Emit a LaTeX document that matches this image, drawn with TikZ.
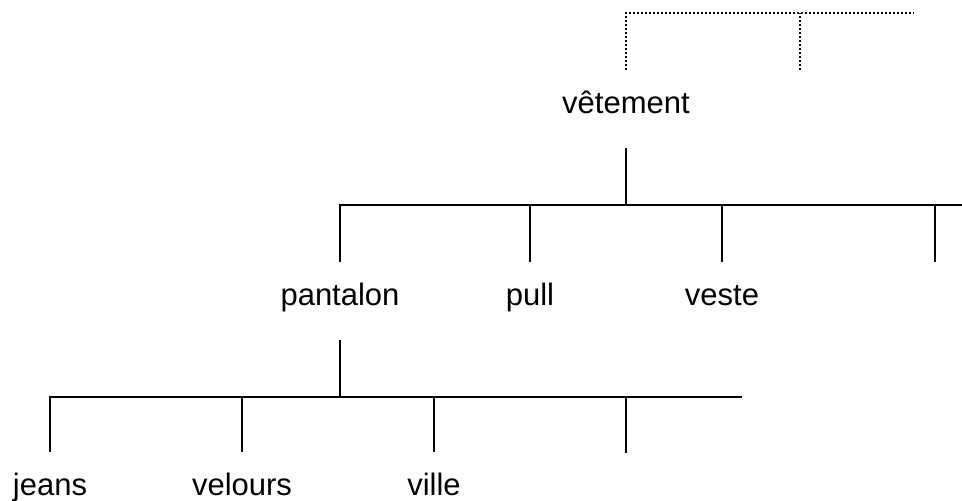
\documentclass[tikz,border=0pt]{standalone}
\usepackage{fontspec}
\setmainfont{Liberation Sans}
\usepackage{tikz}
\usetikzlibrary{calc}
\tikzset{
  term/.style={inner xsep=0pt,inner ysep=0pt,text height=43pt,text depth=35pt,anchor=base,font=\fontsize{31pt}{36pt}\selectfont},
  branch/.style={line width=2.2pt,color=black},
  upper/.style={line width=2pt,dash pattern=on 2pt off 2pt,color=black},
}
\begin{document}
\begin{tikzpicture}[x=1pt,y=-1pt]
  \useasboundingbox (0,0) rectangle (962,501);

  % Level 0: parent (dotted)
  \node[term] (vet) at (626,113) {vêtement};
  \coordinate (topR) at (914,13);
  \coordinate (topM) at (800,70);

  % Level 1
  \node[term] (pant) at (340,305) {pantalon};
  \node[term] (pull) at (530,305) {pull};
  \node[term] (veste) at (722,305) {veste};
  \coordinate (k4) at (935,262);
  \coordinate (bar1R) at (962,205);

  % Level 2
  \node[term] (jeans) at (50,495) {jeans};
  \node[term] (vel) at (242,495) {velours};
  \node[term] (ville) at (434,495) {ville};
  \coordinate (m4) at (626,453);
  \coordinate (bar2R) at (742,397);

  % Dotted links above vetement
  \draw[upper] (vet.north) |- (topR);
  \draw[upper] (topM) -- (topM |- topR);

  % Links vetement -> level 1
  \draw[branch] (vet.south) -- (vet.south |- bar1R);
  \draw[branch] (pant.north) |- (bar1R);
  \draw[branch] (pull.north) -- (pull.north |- bar1R);
  \draw[branch] (veste.north) -- (veste.north |- bar1R);
  \draw[branch] (k4) -- (k4 |- bar1R);

  % Links pantalon -> level 2
  \draw[branch] (pant.south) -- (pant.south |- bar2R);
  \draw[branch] (jeans.north) |- (bar2R);
  \draw[branch] (vel.north) -- (vel.north |- bar2R);
  \draw[branch] (ville.north) -- (ville.north |- bar2R);
  \draw[branch] (m4) -- (m4 |- bar2R);
\end{tikzpicture}
\end{document}
